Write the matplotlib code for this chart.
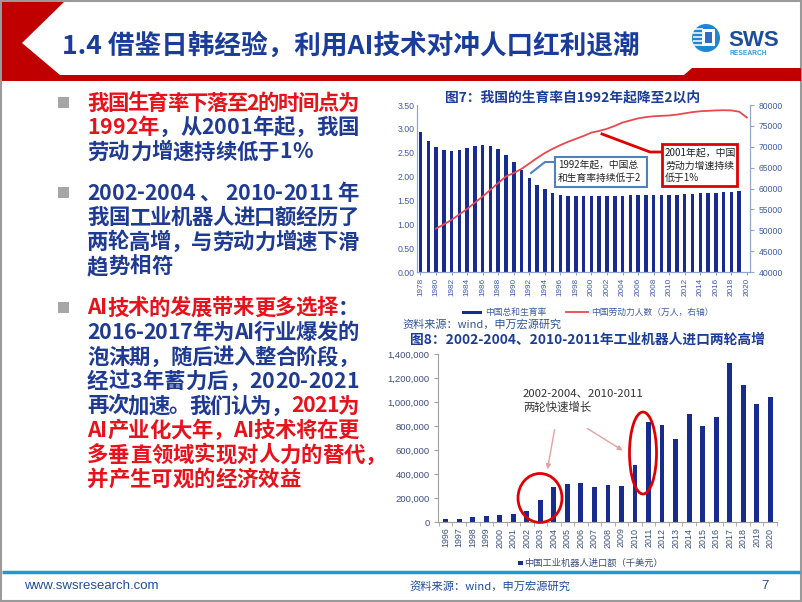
import numpy as np
import matplotlib
matplotlib.use('Agg')
import matplotlib.pyplot as plt
from matplotlib.patches import Polygon, Rectangle, Ellipse, Circle, FancyArrowPatch
from matplotlib.font_manager import FontProperties, findfont
from matplotlib.ft2font import FT2Font

plt.rcParams['font.family'] = ['Noto Sans CJK SC', 'DejaVu Sans']

# ---------------- data ----------------
tfr_years = list(range(1978, 2021))
tfr = [2.94, 2.75, 2.61, 2.55, 2.54, 2.56, 2.60, 2.64, 2.66, 2.64,
       2.57, 2.45, 2.30, 2.13, 1.97, 1.83, 1.73, 1.66, 1.62, 1.60,
       1.60, 1.60, 1.60, 1.60, 1.60, 1.60, 1.60, 1.61, 1.61, 1.61,
       1.61, 1.61, 1.61, 1.62, 1.63, 1.64, 1.65, 1.66, 1.66, 1.67,
       1.68, 1.69, np.nan]
labor_years = list(range(1980, 2021))
labor = [50400, 51400, 52500, 53800, 55100, 56600, 58100, 59700, 61300, 62900,
         63700, 64700, 66000, 67300, 68500, 69500, 70400, 71200, 71900, 72600,
         73400, 73800, 74300, 75000, 75800, 76300, 76800, 77100, 77300, 77400,
         77500, 77700, 78000, 78300, 78500, 78600, 78700, 78750, 78700, 78400,
         77000]
robot_years = list(range(1996, 2021))
robot_imports = [22000, 25000, 42000, 47000, 58000, 69000, 94000, 183000, 294000, 314000,
                 325000, 292000, 308000, 303000, 478000, 831000, 808000, 694000, 897000, 800000,
                 875000, 1322000, 1142000, 986000, 1042000]

# ---------------- colours ----------------
NAVY = '#172C8C'
RED_HDR = '#C00000'
TITLE_BLUE = '#1A3C9A'
TXT_BLUE = '#1F3A93'
TXT_RED = '#E8121A'
AX_BLUE = '#3E5BA9'
LINE_RED = '#E8484F'

W, H = 802, 602
fig = plt.figure(figsize=(W / 100, H / 100), dpi=100)
fig.patch.set_facecolor('white')


def axes_px(x0, y0, x1, y1, **kw):
    return fig.add_axes([x0 / W, 1 - y1 / H, (x1 - x0) / W, (y1 - y0) / H], **kw)


bg = fig.add_axes([0, 0, 1, 1], label='bg')
bg.set_xlim(0, W)
bg.set_ylim(H, 0)
bg.axis('off')

# slide frame
bg.add_patch(Rectangle((1, 1), W - 2, H - 2, fill=False, ec='#9A9A9A', lw=1.5))

# header red chevron / band
bg.add_patch(Polygon([(2, 2), (64, 2), (22, 43), (60, 75), (684, 75), (692, 68),
                      (801, 68), (801, 81), (2, 81)], closed=True, fc=RED_HDR, ec='none'))
bg.text(62, 46, '1.4 借鉴日韩经验，利用AI技术对冲人口红利退潮', fontsize=19.2,
        color=TITLE_BLUE, weight='bold', va='center', ha='left')

# logo
bg.add_patch(Circle((706, 38), 14, fc='#1F87D2', ec='none'))
for yy in [29, 33, 37, 41, 45]:
    bg.plot([693, 703], [yy, yy], color='white', lw=1.1, solid_capstyle='butt')
bg.add_patch(Rectangle((702, 29), 13, 17, fc='white', ec='none'))
bg.add_patch(Rectangle((705, 32), 7, 11, fc='#2B6CC4', ec='none'))
bg.text(728, 46, 'SWS', fontsize=16, weight='bold', color='#1D4E9E',
        family='Liberation Sans', va='baseline', ha='left')
bg.text(729, 55, 'RESEARCH', fontsize=4.8, weight='bold', color='#2E9BD6',
        family='Liberation Sans', va='baseline', ha='left')

# ---------------- bullet text (justified, char by char) ----------------
BFS = 15.4
bfp = FontProperties(family='Noto Sans CJK SC', weight='bold', size=BFS)
try:
    _ft = FT2Font(findfont(bfp), hinting_factor=1)
    _ft.set_size(BFS, 100)

    def adv(c):
        return _ft.load_char(ord(c)).linearHoriAdvance / 65536.0
except Exception:
    def adv(c):
        return BFS * 100 / 72 * (1.0 if ord(c) > 0x2000 else 0.55)

X_L, X_R = 87, 359


def draw_line(yc, segs, justify):
    chars = []
    for s, col in segs:
        chars += [(c, col) for c in s]
    widths = [adv(c) for c, _ in chars]
    total = sum(widths)
    gap = (X_R - X_L - total) / (len(chars) - 1) if justify and len(chars) > 1 else 0.0
    x = X_L
    for (c, col), w in zip(chars, widths):
        if c != ' ':
            bg.text(x, yc + 7.5, c, fontproperties=bfp, color=col, ha='left', va='baseline')
        x += w + gap


bullets = [
    (102, [
        ([('我国生育率下落至2的时间点为', TXT_RED)], True),
        ([('1992年', TXT_RED), ('，从2001年起，我国', TXT_BLUE)], True),
        ([('劳动力增速持续低于1%', TXT_BLUE)], False),
    ]),
    (192, [
        ([('2002-2004 、 2010-2011 年', TXT_BLUE)], True),
        ([('我国工业机器人进口额经历了', TXT_BLUE)], True),
        ([('两轮高增，与劳动力增速下滑', TXT_BLUE)], True),
        ([('趋势相符', TXT_BLUE)], False),
    ]),
    (307, [
        ([('AI技术的发展带来更多选择', TXT_RED), ('：', TXT_BLUE)], True),
        ([('2016-2017年为AI行业爆发的', TXT_BLUE)], True),
        ([('泡沫期，随后进入整合阶段，', TXT_BLUE)], True),
        ([('经过3年蓄力后，2020-2021', TXT_BLUE)], True),
        ([('再次加速。我们认为，', TXT_BLUE), ('2021为', TXT_RED)], True),
        ([('AI产业化大年，AI技术将在更', TXT_RED)], True),
        ([('多垂直领域实现对人力的替代，', TXT_RED)], False),
        ([('并产生可观的经济效益', TXT_RED)], False),
    ]),
]
for y0, lines in bullets:
    bg.add_patch(Rectangle((58, y0 - 5.5), 11, 11, fc='#A6A6A6', ec='none'))
    for i, (segs, just) in enumerate(lines):
        draw_line(y0 + i * 24.5, segs, just)

# ---------------- chart 1 ----------------
ax1 = axes_px(417, 105, 750, 272, label='c1')
ax1.set_facecolor('none')
x1 = np.arange(len(tfr_years))
ax1.bar(x1, tfr, width=0.45, color=NAVY, zorder=2)
ax1.set_xlim(-0.45, 42.4)
ax1.set_ylim(0, 3.5)
ax1.set_yticks(np.arange(0, 3.51, 0.5))
ax1.set_yticklabels([f'{v:.2f}' for v in np.arange(0, 3.51, 0.5)])
ax1.set_xticks(x1[::2])
ax1.set_xticklabels([str(y) for y in tfr_years[::2]], rotation=90)
ax1.tick_params(axis='y', length=0, pad=2, labelsize=6.3, labelcolor=AX_BLUE,
                labelfontfamily='Liberation Sans')
ax1.tick_params(axis='x', length=2, pad=2, labelsize=5.9, labelcolor=AX_BLUE,
                color='#8FA6D0', labelfontfamily='Liberation Sans')
ax1.spines['top'].set_visible(False)
for sp in ['left', 'right', 'bottom']:
    ax1.spines[sp].set_color('#8FA6D0')
    ax1.spines[sp].set_linewidth(0.8)

ax1r = ax1.twinx()
lx = [tfr_years.index(y) for y in labor_years]
ax1r.plot(lx, labor, color=LINE_RED, lw=1.3, zorder=3)
ax1r.set_ylim(40000, 80000)
ax1r.set_yticks(np.arange(40000, 80001, 5000))
ax1r.tick_params(axis='y', length=3, pad=3, labelsize=6.2, labelcolor=AX_BLUE,
                 color='#8FA6D0', labelfontfamily='Liberation Sans')
ax1r.spines['top'].set_visible(False)
for sp in ['left', 'right', 'bottom']:
    ax1r.spines[sp].set_color('#8FA6D0')
    ax1r.spines[sp].set_linewidth(0.8)

# ---------------- chart 2 ----------------
ax2 = axes_px(438, 354, 777, 522, label='c2')
ax2.set_facecolor('none')
x2 = np.arange(len(robot_years))
ax2.bar(x2, robot_imports, width=0.36, color=NAVY, zorder=2)
ax2.set_xlim(-0.57, 24.37)
ax2.set_ylim(0, 1400000)
yt = np.arange(0, 1400001, 200000)
ax2.set_yticks(yt)
ax2.set_yticklabels([f'{int(v):,}' for v in yt])
ax2.set_xticks(x2)
ax2.set_xticklabels([str(y) for y in robot_years], rotation=90)
ax2.set_xticks(np.arange(-0.5, 24.6, 1), minor=True)
ax2.tick_params(axis='x', which='major', length=0, pad=4, labelsize=6.4,
                labelcolor='#3B4E7E', labelfontfamily='Liberation Sans')
ax2.tick_params(axis='x', which='minor', length=3, color='#A0A0A0')
ax2.tick_params(axis='y', length=3, pad=3, labelsize=6.8, labelcolor='#3B4E7E',
                color='#A0A0A0', labelfontfamily='Liberation Sans')
for sp in ['top', 'right']:
    ax2.spines[sp].set_visible(False)
for sp in ['left', 'bottom']:
    ax2.spines[sp].set_color('#A0A0A0')
    ax2.spines[sp].set_linewidth(0.8)

# ---------------- overlay (titles, annotations, legends) ----------------
fg = fig.add_axes([0, 0, 1, 1], label='fg')
fg.set_xlim(0, W)
fg.set_ylim(H, 0)
fg.axis('off')
fg.set_facecolor('none')

fg.text(573, 97, '图7：我国的生育率自1992年起降至2以内', fontsize=9.9, weight='bold',
        color=TITLE_BLUE, ha='center', va='center')
fg.text(587, 340, '图8：2002-2004、2010-2011年工业机器人进口两轮高增', fontsize=9.9,
        weight='bold', color=TITLE_BLUE, ha='center', va='center')

# chart 1 annotations
fg.plot([531, 545, 556], [173, 162, 162], color='#4F81BD', lw=1.5)
fg.add_patch(Rectangle((555, 157), 92, 30, fc='white', ec='#4F81BD', lw=1.5, zorder=5))
fg.text(558, 165, '1992年起，中国总', fontsize=7.0, color='#222222', va='center', zorder=6)
fg.text(558, 178, '和生育率持续低于2', fontsize=7.0, color='#222222', va='center', zorder=6)

fg.plot([602, 650, 663], [134, 152, 152], color='#E00000', lw=2)
fg.add_patch(Rectangle((662, 144), 75, 42, fc='white', ec='#E00000', lw=2, zorder=5))
fg.text(665, 153, '2001年起，中国', fontsize=7.1, color='#222222', va='center', zorder=6)
fg.text(665, 165.5, '劳动力增速持续', fontsize=7.1, color='#222222', va='center', zorder=6)
fg.text(665, 178, '低于1%', fontsize=7.1, color='#222222', va='center', zorder=6)

# chart 1 legend + source
fg.add_patch(Rectangle((462, 310.5), 20, 3.5, fc=NAVY, ec='none'))
fg.text(485, 312, '中国总和生育率', fontsize=6.3, color=AX_BLUE, va='center')
fg.plot([566, 588], [312, 312], color=LINE_RED, lw=1.3)
fg.text(591, 312, '中国劳动力人数（万人，右轴）', fontsize=6.3, color=AX_BLUE, va='center')
fg.text(402, 324, '资料来源：wind，申万宏源研究', fontsize=8.0, color='#2F5597', va='center')

# chart 2 annotations
fg.text(523, 393, '2002-2004、2010-2011', fontsize=8.2, color='#333333', va='center')
fg.text(523, 407.5, '两轮快速增长', fontsize=8.2, color='#333333', va='center')
for (xa, ya), (xb, yb) in [((555, 427), (547, 472)), ((585, 427), (625, 452))]:
    fg.add_patch(FancyArrowPatch((xa, ya), (xb, yb), arrowstyle='-|>', mutation_scale=7,
                                 color='#E3A1A1', lw=1))
fg.add_patch(Ellipse((540, 498), 44, 49, fill=False, ec='#E00000', lw=2))
fg.add_patch(Ellipse((643, 453), 27, 82, fill=False, ec='#E00000', lw=2))

# chart 2 legend
fg.add_patch(Rectangle((518, 560.5), 4.5, 4.5, fc=NAVY, ec='none'))
fg.text(524, 563, '中国工业机器人进口额（千美元）', fontsize=6.7, color='#3B4E7E', va='center')

# footer
fg.plot([2, 800], [572, 572], color='#2596D1', lw=2.5, solid_capstyle='butt')
fg.text(24, 586, 'www.swsresearch.com', fontsize=9.5, color='#1F4E9C',
        family='Liberation Sans', va='center')
fg.text(409, 586, '资料来源：wind，申万宏源研究', fontsize=8.1, color='#1F4E9C', va='center')
fg.text(765, 586, '7', fontsize=9.5, color='#1F4E9C', family='Liberation Sans',
        va='center', ha='center')

fig.savefig('out.png', dpi=100)
